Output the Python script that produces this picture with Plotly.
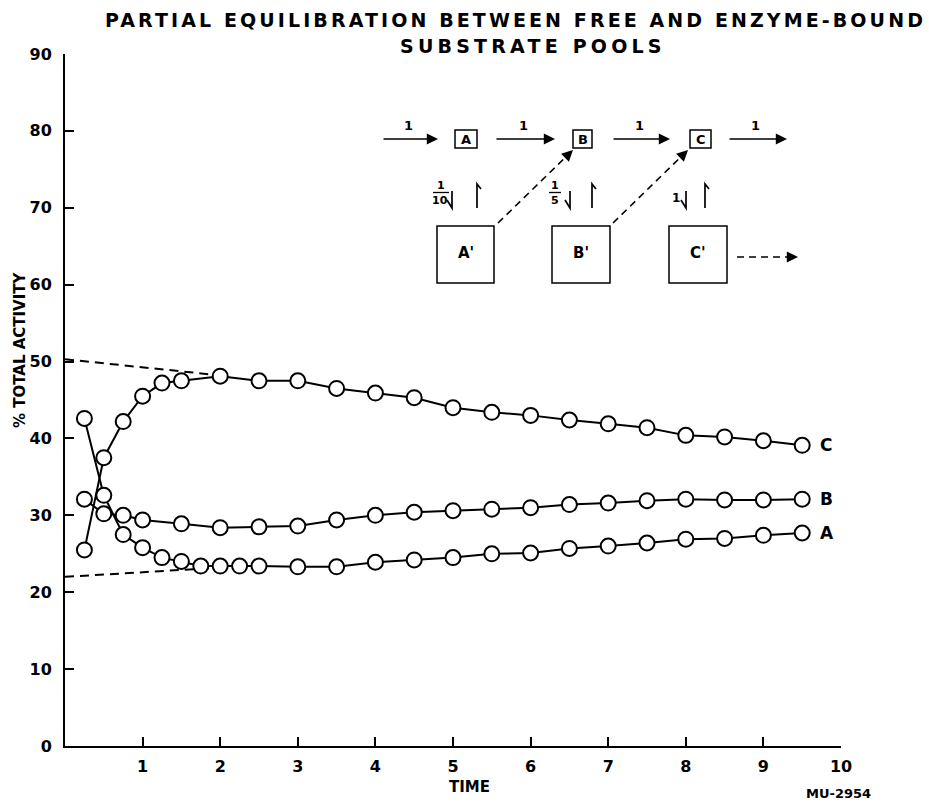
import math
import plotly.graph_objects as go

# ---------------- data ----------------
a_time = [0.25, 0.5, 0.75, 1.0, 1.25, 1.5, 1.75, 2.0, 2.25, 2.5,
          3.0, 3.5, 4.0, 4.5, 5.0, 5.5, 6.0, 6.5, 7.0, 7.5, 8.0, 8.5, 9.0, 9.5]
a_vals = [42.6, 32.6, 27.5, 25.8, 24.5, 24.0, 23.4, 23.4, 23.4, 23.4,
          23.3, 23.3, 23.9, 24.2, 24.5, 25.0, 25.1, 25.7, 26.0, 26.4, 26.9, 27.0, 27.4, 27.7]

b_time = [0.25, 0.5, 0.75, 1.0,
          1.5, 2.0, 2.5, 3.0, 3.5, 4.0, 4.5, 5.0, 5.5, 6.0, 6.5, 7.0, 7.5, 8.0, 8.5, 9.0, 9.5]
b_vals = [32.1, 30.2, 30.0, 29.4,
          28.9, 28.4, 28.5, 28.6, 29.4, 30.0, 30.4, 30.6, 30.8, 31.0, 31.4, 31.6, 31.9, 32.1, 32.0, 32.0, 32.1]

c_time = [0.25, 0.5, 0.75, 1.0, 1.25, 1.5,
          2.0, 2.5, 3.0, 3.5, 4.0, 4.5, 5.0, 5.5, 6.0, 6.5, 7.0, 7.5, 8.0, 8.5, 9.0, 9.5]
c_vals = [25.5, 37.5, 42.2, 45.5, 47.2, 47.5,
          48.1, 47.5, 47.5, 46.5, 45.9, 45.3, 44.0, 43.4, 43.0, 42.4, 41.9, 41.4, 40.4, 40.2, 39.7, 39.1]

upper_dash_time = [0.0, 2.0]
upper_dash_vals = [50.3, 48.2]
lower_dash_time = [0.0, 2.0]
lower_dash_vals = [22.0, 23.2]

x_tick_vals = [1, 2, 3, 4, 5, 6, 7, 8, 9, 10]
y_tick_vals = [0, 10, 20, 30, 40, 50, 60, 70, 80, 90]

series_labels = ["A", "B", "C"]

# ---------------- layout geometry (pixels) ----------------
W, H = 929, 802
L, R, T, B = 65, 88, 54, 56
PW, PH = W - L - R, H - T - B


def X(px):
    return (px - L) / PW


def Y(py):
    return (H - B - py) / PH


FONT = "DejaVu Sans"
BLACK = "#000000"

fig = go.Figure()

for t, v in [(upper_dash_time, upper_dash_vals), (lower_dash_time, lower_dash_vals)]:
    fig.add_trace(go.Scatter(x=t, y=v, mode="lines",
                             line=dict(color=BLACK, width=2, dash="9px,6px"),
                             hoverinfo="skip", showlegend=False))

for t, v in [(a_time, a_vals), (b_time, b_vals), (c_time, c_vals)]:
    fig.add_trace(go.Scatter(
        x=t, y=v, mode="lines+markers",
        line=dict(color=BLACK, width=2),
        marker=dict(symbol="circle", size=15, color="white",
                    line=dict(color=BLACK, width=2)),
        showlegend=False))

annotations = []
shapes = []

# series end labels
for name, t, v in [("A", a_time, a_vals), ("B", b_time, b_vals), ("C", c_time, c_vals)]:
    annotations.append(dict(x=t[-1], y=v[-1], xref="x", yref="y", text=name,
                            showarrow=False, xanchor="left", xshift=16,
                            font=dict(family=FONT, size=17, color=BLACK, weight="bold")))

# title (letter-spaced like the original lettering)
annotations.append(dict(x=X(515), y=Y(20), xref="paper", yref="paper",
                        text='<span style="letter-spacing:3.1px">PARTIAL EQUILIBRATION BETWEEN FREE AND ENZYME-BOUND</span>',
                        showarrow=False, xanchor="center", yanchor="middle",
                        font=dict(family=FONT, size=19, color=BLACK, weight="bold")))
annotations.append(dict(x=X(533), y=Y(46), xref="paper", yref="paper",
                        text='<span style="letter-spacing:4.2px">SUBSTRATE POOLS</span>',
                        showarrow=False, xanchor="center", yanchor="middle",
                        font=dict(family=FONT, size=19, color=BLACK, weight="bold")))

# axis titles
annotations.append(dict(x=X(20), y=Y(350), xref="paper", yref="paper",
                        text="% TOTAL ACTIVITY", textangle=-90,
                        showarrow=False, xanchor="center", yanchor="middle",
                        font=dict(family=FONT, size=15, color=BLACK, weight="bold")))
annotations.append(dict(x=X(469), y=Y(787), xref="paper", yref="paper",
                        text="TIME", showarrow=False, xanchor="center", yanchor="middle",
                        font=dict(family=FONT, size=15, color=BLACK, weight="bold")))
annotations.append(dict(x=X(838), y=Y(793), xref="paper", yref="paper",
                        text="MU-2954", showarrow=False, xanchor="center", yanchor="middle",
                        font=dict(family=FONT, size=13, color=BLACK, weight="bold")))

# ---------------- reaction scheme ----------------
def arrow(x0, y0, x1, y1):
    annotations.append(dict(x=X(x1), y=Y(y1), xref="paper", yref="paper",
                            ax=x0 - x1, ay=y0 - y1, axref="pixel", ayref="pixel",
                            text="", showarrow=True, arrowhead=2, arrowsize=1.4,
                            arrowwidth=1.6, arrowcolor=BLACK, standoff=0, startstandoff=0))


def dashed_arrow(x0, y0, x1, y1):
    d = math.hypot(x1 - x0, y1 - y0)
    ux, uy = (x1 - x0) / d, (y1 - y0) / d
    shapes.append(dict(type="line", xref="paper", yref="paper",
                       x0=X(x0), y0=Y(y0), x1=X(x1 - 8 * ux), y1=Y(y1 - 8 * uy),
                       line=dict(color=BLACK, width=1.6, dash="7px,5px")))
    annotations.append(dict(x=X(x1), y=Y(y1), xref="paper", yref="paper",
                            ax=-10 * ux, ay=-10 * uy, axref="pixel", ayref="pixel",
                            text="", showarrow=True, arrowhead=2, arrowsize=1.4,
                            arrowwidth=1.6, arrowcolor=BLACK, standoff=0))


def label(px, py, text, size=13):
    annotations.append(dict(x=X(px), y=Y(py), xref="paper", yref="paper", text=text,
                            showarrow=False, xanchor="center", yanchor="middle",
                            font=dict(family=FONT, size=size, color=BLACK, weight="bold")))


def rect(x0, y0, x1, y1, w=1.5):
    shapes.append(dict(type="rect", xref="paper", yref="paper",
                       x0=X(x0), y0=Y(y1), x1=X(x1), y1=Y(y0),
                       line=dict(color=BLACK, width=w), fillcolor="rgba(0,0,0,0)"))


def path(points, w=1.5):
    d = "M " + " L ".join(f"{X(px):.5f},{Y(py):.5f}" for px, py in points)
    shapes.append(dict(type="path", xref="paper", yref="paper", path=d,
                       line=dict(color=BLACK, width=w)))


# top row arrows and labels
for (x0, x1) in [(382, 438), (495, 555), (612, 670), (728, 787)]:
    arrow(x0, 139, x1, 139)
    label((x0 + x1) / 2 - 2, 125, "1", 13)

# small boxes
for (x0, x1), name in zip([(455, 477), (573, 592), (690, 711)], series_labels):
    rect(x0, 130, x1, 148)
    label((x0 + x1) / 2, 139.5, name, 13)

# big (enzyme-bound) boxes
for (x0, x1), name in zip([(437, 494), (552, 610), (669, 727)], series_labels):
    rect(x0, 226, x1, 283)
    label((x0 + x1) / 2, 253, name + "'", 15)

# exchange rates
label(441, 185, "1", 11)
label(440, 200, "10", 11)
path([(433, 192.5), (449, 192.5)], 1.3)
label(555, 185, "1", 11)
label(555, 200, "5", 11)
path([(549, 192.5), (561, 192.5)], 1.3)
label(676, 198, "1", 12)

for xd, xu in [(452, 477), (570, 592), (686, 705)]:
    path([(xd - 5, 200), (xd, 208), (xd, 191)], 1.7)
    path([(xu, 208), (xu, 184), (xu + 4, 189)], 1.7)

dashed_arrow(498, 223, 573, 150)
dashed_arrow(613, 223, 688, 150)
dashed_arrow(737, 257, 798, 257)

fig.update_layout(
    width=W, height=H,
    margin=dict(l=L, r=R, t=T, b=B),
    paper_bgcolor="white", plot_bgcolor="white",
    showlegend=False,
    annotations=annotations, shapes=shapes,
    xaxis=dict(range=[0, 10], tickvals=x_tick_vals, ticktext=[str(v) for v in x_tick_vals],
               showline=True, linecolor=BLACK, linewidth=2, mirror=False,
               ticks="inside", ticklen=9, tickwidth=2, tickcolor=BLACK,
               showgrid=False, zeroline=False, ticklabelstandoff=5,
               tickfont=dict(family=FONT, size=16, color=BLACK, weight="bold")),
    yaxis=dict(range=[0, 90], tickvals=y_tick_vals, ticktext=[str(v) for v in y_tick_vals],
               showline=True, linecolor=BLACK, linewidth=2, mirror=False,
               ticks="inside", ticklen=9, tickwidth=2, tickcolor=BLACK,
               showgrid=False, zeroline=False, ticklabelstandoff=8,
               tickfont=dict(family=FONT, size=16, color=BLACK, weight="bold")),
)

fig.write_html("out.html")
